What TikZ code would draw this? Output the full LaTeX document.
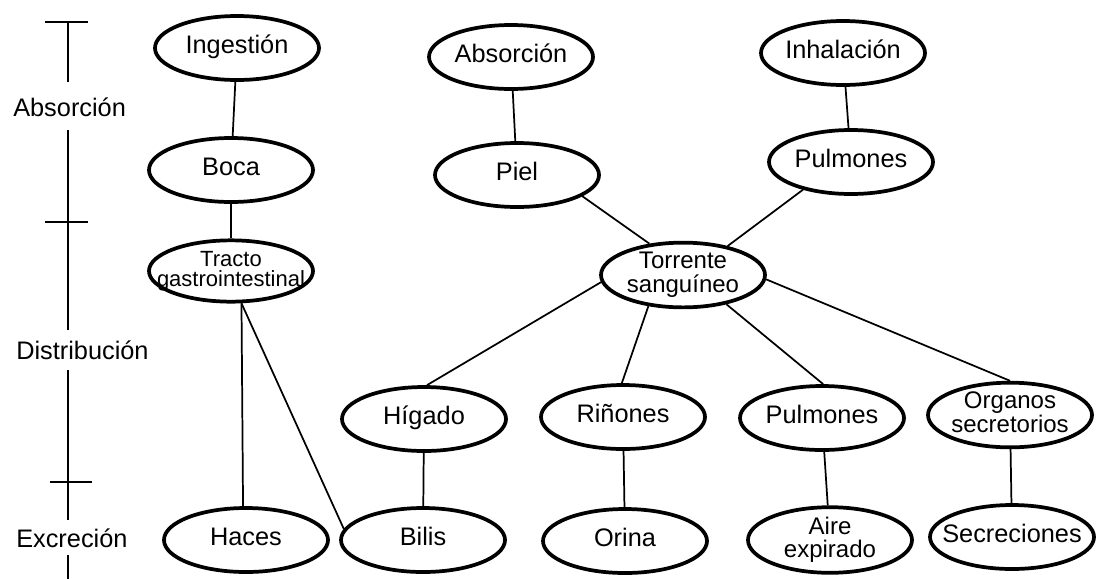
\documentclass[tikz,border=0pt]{standalone}
\usepackage{fontspec}
\setmainfont{Liberation Sans}
\usetikzlibrary{shapes.geometric}
\newcommand\ctext[1]{\makebox[0pt]{\begin{tabular}{@{}c@{}}#1\end{tabular}}}
\begin{document}
\begin{tikzpicture}[x=0.75pt,y=-0.75pt,
  oval/.style={draw, ellipse, line width=2.8pt, fill=white, inner sep=0pt,
    minimum width=123pt, minimum height=48pt, font=\fontsize{19}{21}\selectfont},
  two/.style={font=\fontsize{18}{14.5}\selectfont},
  small/.style={font=\fontsize{16.5}{11.5}\selectfont},
  link/.style={line width=1.3pt},
  axisline/.style={line width=1.4pt},
  lbl/.style={anchor=west, inner sep=0pt, font=\fontsize{19}{21}\selectfont}]
\useasboundingbox[fill=white] (0,0) rectangle (1098,579);

% axis
\draw[axisline] (45,22) -- (88,22);
\draw[axisline] (68,22) -- (68,82);
\draw[axisline] (68,130) -- (68,330);
\draw[axisline] (68,370) -- (68,520);
\draw[axisline] (68,555) -- (68,579);
\draw[axisline] (45,222) -- (88,222);
\draw[axisline] (50,482) -- (92,482);
\node[lbl] (labs) at (13,107) {Absorción};
\node[lbl] (ldis) at (16,350) {Distribución};
\node[lbl] (lexc) at (16,538) {Excreción};

% nodes
\node[oval] (ing) at (237,48) {\ctext{Ingestión}};
\node[oval] (boca) at (231,170) {\ctext{Boca}};
\node[oval, small, minimum height=46pt] (tracto) at (231,271) {\ctext{Tracto\\gastrointestinal}};
\node[oval] (haces) at (246,540) {\ctext{Haces}};
\node[oval] (bilis) at (423,540) {\ctext{Bilis}};
\node[oval] (absn) at (511,57) {\ctext{Absorción}};
\node[oval] (piel) at (517,175) {\ctext{Piel}};
\node[oval] (inh) at (843,53) {\ctext{Inhalación}};
\node[oval] (pulm) at (851,162) {\ctext{Pulmones}};
\node[oval, two] (torr) at (683,275) {\ctext{Torrente\\sanguíneo}};
\node[oval] (hig) at (424,419) {\ctext{Hígado}};
\node[oval] (rin) at (623,417) {\ctext{Riñones}};
\node[oval] (pul2) at (822,418) {\ctext{Pulmones}};
\node[oval, two] (org) at (1010,415) {\ctext{Organos\\secretorios}};
\node[oval] (orina) at (625,541) {\ctext{Orina}};
\node[oval, two] (aire) at (830,540) {\ctext{Aire\\expirado}};
\node[oval] (secr) at (1012,537) {\ctext{Secreciones}};

% connectors
\draw[link] (ing) -- (boca);
\draw[link] (boca) -- (tracto);
\draw[link] (tracto.288) -- (haces.95);
\draw[link] (tracto.288) -- (bilis.172);
\draw[link] (absn) -- (piel);
\draw[link] (inh) -- (pulm);
\draw[link] (piel.-18) -- (torr.137);
\draw[link] (pulm.210) -- (torr.33);
\draw[link] (torr.185) -- (hig.85);
\draw[link] (torr.222) -- (rin.92);
\draw[link] (torr.326) -- (pul2.88);
\draw[link] (torr.357) -- (org.90);
\draw[link] (hig) -- (bilis);
\draw[link] (rin) -- (orina);
\draw[link] (pul2) -- (aire);
\draw[link] (org) -- (secr);
\end{tikzpicture}
\end{document}
